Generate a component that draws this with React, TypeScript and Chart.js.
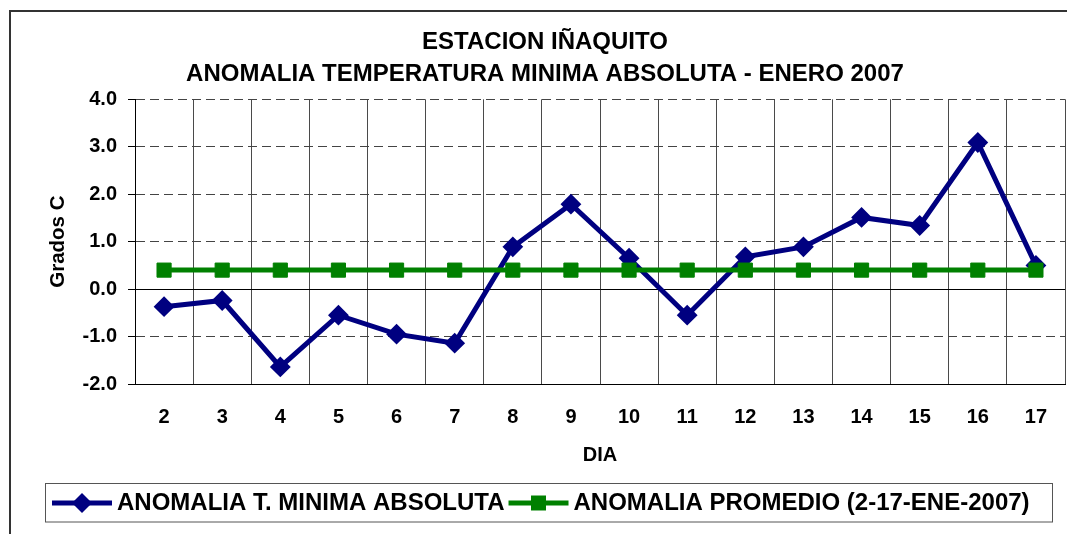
import React, { useEffect, useRef } from "react";
import { Chart, registerables } from "chart.js";

Chart.register(...registerables);

// ---- Data ----
const days = ["2", "3", "4", "5", "6", "7", "8", "9", "10", "11", "12", "13", "14", "15", "16", "17"];
const anomaliaMinima = [-0.37, -0.24, -1.64, -0.55, -0.95, -1.14, 0.89, 1.79, 0.65, -0.55, 0.68, 0.89, 1.51, 1.34, 3.09, 0.5];
const anomaliaPromedio = [0.4, 0.4, 0.4, 0.4, 0.4, 0.4, 0.4, 0.4, 0.4, 0.4, 0.4, 0.4, 0.4, 0.4, 0.4, 0.4];
const seriesLabels = ["ANOMALIA T. MINIMA ABSOLUTA", "ANOMALIA PROMEDIO (2-17-ENE-2007)"];
const titleLines = ["ESTACION IÑAQUITO", "ANOMALIA TEMPERATURA MINIMA ABSOLUTA - ENERO 2007"];
const xAxisTitle = "DIA";
const yAxisTitle = "Grados C";
const yMin = -2;
const yMax = 4;
const yStep = 1;

const FONT = '"Liberation Sans", Arial, Helvetica, sans-serif';

const framePlugin = {
  id: "outerFrame",
  beforeDraw(chart: any) {
    const ctx = chart.ctx;
    ctx.save();
    ctx.fillStyle = "#ffffff";
    ctx.fillRect(0, 0, chart.width, chart.height);
    ctx.strokeStyle = "#333333";
    ctx.lineWidth = 2;
    ctx.beginPath();
    ctx.moveTo(10, chart.height + 2);
    ctx.lineTo(10, 11);
    ctx.lineTo(1067, 11);
    ctx.stroke();
    ctx.restore();
  },
};

const boxLegendPlugin = {
  id: "boxLegend",
  afterDraw(chart: any) {
    const ctx = chart.ctx;
    ctx.save();
    const left = 45.5;
    const top = 483.5;
    const right = 1052.5;
    const bottom = 522;
    ctx.strokeStyle = "#555555";
    ctx.lineWidth = 1;
    ctx.strokeRect(left, top, right - left, bottom - top);
    const cy = 503;
    ctx.font = `bold 24px ${FONT}`;
    ctx.textBaseline = "middle";
    ctx.textAlign = "left";
    let x = 52;
    chart.data.datasets.forEach((ds: any) => {
      ctx.strokeStyle = ds.borderColor;
      ctx.lineWidth = ds.borderWidth;
      ctx.beginPath();
      ctx.moveTo(x, cy);
      ctx.lineTo(x + 60, cy);
      ctx.stroke();
      const mx = x + 30;
      ctx.fillStyle = ds.pointBackgroundColor;
      ctx.beginPath();
      if (ds.pointStyle === "rectRot") {
        const r = 10;
        ctx.moveTo(mx - r, cy);
        ctx.lineTo(mx, cy - r);
        ctx.lineTo(mx + r, cy);
        ctx.lineTo(mx, cy + r);
      } else {
        const h = 7.5;
        ctx.rect(mx - h, cy - h, 2 * h, 2 * h);
      }
      ctx.closePath();
      ctx.fill();
      ctx.fillStyle = "#000000";
      ctx.fillText(ds.label, x + 65, cy);
      x = x + 65 + ctx.measureText(ds.label).width + 4;
    });
    ctx.restore();
  },
};

export default function App() {
  const canvasRef = useRef<HTMLCanvasElement | null>(null);

  useEffect(() => {
    if (!canvasRef.current) return;
    const isSolidY = (c: any) => c && c.tick && (c.tick.value === 0 || c.tick.value === yMin);
    const chart = new Chart(canvasRef.current, {
      type: "line",
      data: {
        labels: days,
        datasets: [
          {
            label: seriesLabels[0],
            data: anomaliaMinima,
            borderColor: "#000080",
            backgroundColor: "#000080",
            borderWidth: 5,
            pointStyle: "rectRot",
            pointRadius: 9,
            pointBorderWidth: 2,
            pointBackgroundColor: "#000080",
            pointBorderColor: "#000080",
            tension: 0,
            order: 2,
            clip: false,
          } as any,
          {
            label: seriesLabels[1],
            data: anomaliaPromedio,
            borderColor: "#008000",
            backgroundColor: "#008000",
            borderWidth: 5,
            pointStyle: "rect",
            pointRadius: 10,
            pointBorderWidth: 1,
            pointBackgroundColor: "#008000",
            pointBorderColor: "#008000",
            tension: 0,
            order: 1,
            clip: false,
          } as any,
        ],
      },
      options: {
        responsive: false,
        animation: false,
        events: [],
        layout: { padding: { left: 25, right: 12, top: 0, bottom: 67 } },
        plugins: {
          legend: { display: false },
          tooltip: { enabled: false },
          title: {
            display: true,
            text: titleLines,
            color: "#000000",
            font: { family: FONT, size: 24, weight: "bold", lineHeight: 32 / 24 },
            padding: { top: 26, bottom: 9.3 },
          },
        },
        scales: {
          x: {
            type: "category",
            offset: true,
            grid: {
              offset: true,
              color: (c: any) => (c.index === 0 ? "#000000" : "#4a4a4a"),
              lineWidth: 1,
              drawTicks: false,
            },
            border: { display: true, color: "#000000", width: 1 },
            ticks: {
              color: "#000000",
              font: { family: FONT, size: 20, weight: "bold" },
              padding: 21,
              maxRotation: 0,
              autoSkip: false,
            },
            title: {
              display: true,
              text: xAxisTitle,
              color: "#000000",
              font: { family: FONT, size: 20, weight: "bold" },
              padding: { top: 0, bottom: 0 },
            },
            afterFit: (s: any) => {
              s.height = 83;
            },
          },
          y: {
            min: yMin,
            max: yMax,
            ticks: {
              stepSize: yStep,
              callback: (v: any) => Number(v).toFixed(1),
              color: "#000000",
              font: { family: FONT, size: 20, weight: "bold" },
              padding: 11,
            },
            grid: {
              color: (c: any) => (isSolidY(c) ? "#000000" : "#444444"),
              lineWidth: 1,
              drawTicks: true,
              tickLength: 7,
              tickColor: "#000000",
              tickBorderDash: [],
            },
            border: {
              display: true,
              color: "#000000",
              width: 1,
              dash: (c: any) => (isSolidY(c) || !c.tick ? [] : [9, 5]),
            },
            title: {
              display: true,
              text: yAxisTitle,
              color: "#000000",
              font: { family: FONT, size: 20.5, weight: "bold" },
              padding: { top: 20.7, bottom: 0 },
            },
            afterFit: (s: any) => {
              s.width = 110;
            },
          },
        },
      } as any,
      plugins: [framePlugin, boxLegendPlugin],
    });
    return () => chart.destroy();
  }, []);

  return (
    <div style={{ position: "absolute", left: 0, top: 0, width: 1077, height: 534 }}>
      <canvas ref={canvasRef} width={1077} height={534} style={{ display: "block" }} />
    </div>
  );
}
